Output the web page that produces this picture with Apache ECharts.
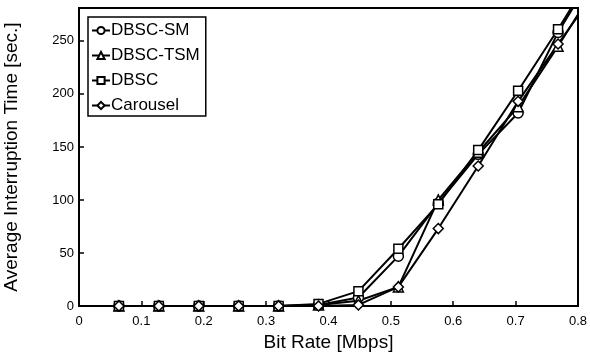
<!DOCTYPE html>
<html><head><meta charset="utf-8">
<script src="https://cdn.jsdelivr.net/npm/echarts@6/dist/echarts.min.js"></script>
<style>html,body{margin:0;padding:0;background:#fff}#c{width:590px;height:355px}</style>
</head><body><div id="c"></div>
<script>
const bitRates = [0.064, 0.128, 0.192, 0.256, 0.32, 0.384, 0.448, 0.512, 0.576, 0.64, 0.704, 0.768, 0.832];
const dbscSM   = [0, 0, 0, 0, 0, 1, 8, 47, 97, 143, 182, 258, 320];
const dbscTSM  = [0, 0, 0, 0, 0, 1, 5, 18, 100, 145, 188, 245, 305];
const dbsc     = [0, 0, 0, 0, 0, 2, 14, 54, 96, 147, 203, 261, 322];
const carousel = [0, 0, 0, 0, 0, 0, 1, 18, 73, 132, 193, 247, 300];
const seriesNames = ['DBSC-SM', 'DBSC-TSM', 'DBSC', 'Carousel'];
const seriesSymbols = ['circle', 'triangle', 'rect', 'diamond'];
const seriesValues = [dbscSM, dbscTSM, dbsc, carousel];
const yTicks = [0, 50, 100, 150, 200, 250];
const xTicks = [0, 0.1, 0.2, 0.3, 0.4, 0.5, 0.6, 0.7, 0.8];

const font = 'Liberation Sans, Arial, sans-serif';
const chart = echarts.init(document.getElementById('c'));
chart.setOption({
  animation: false,
  grid: {left: 79, right: 12, top: 8, bottom: 49, show: true, borderColor: '#000', borderWidth: 2, backgroundColor: 'transparent', containLabel: false, outerBoundsMode: 'none'},
  legend: {
    left: 88, top: 17, orient: 'vertical', itemGap: 8, itemWidth: 18, itemHeight: 9,
    borderColor: '#000', borderWidth: 1.5, padding: [5, 6, 2, 3],
    textStyle: {fontFamily: font, fontSize: 17, color: '#000', padding: [0, 0, 0, -4]},
    data: seriesNames
  },
  xAxis: {
    type: 'value', min: 0, max: 0.8, interval: 0.1,
    name: 'Bit Rate [Mbps]', nameLocation: 'middle', nameGap: 25,
    nameTextStyle: {fontFamily: font, fontSize: 19, color: '#000'},
    axisLine: {lineStyle: {color: '#000', width: 2}},
    axisTick: {inside: true, length: 5, lineStyle: {color: '#000', width: 1.5}},
    axisLabel: {fontFamily: font, fontSize: 13, color: '#000', margin: 9,
      formatter: v => xTicks.includes(Math.round(v*10)/10) ? String(Math.round(v*10)/10) : ''},
    splitLine: {show: false}
  },
  yAxis: {
    type: 'value', min: 0, max: 281, interval: 50,
    name: 'Average Interruption Time [sec.]', nameLocation: 'middle', nameGap: 58,
    nameTextStyle: {fontFamily: font, fontSize: 19, color: '#000'},
    axisLine: {show: true, lineStyle: {color: '#000', width: 2}},
    axisTick: {show: true, inside: true, length: 5, lineStyle: {color: '#000', width: 1.5}},
    axisLabel: {fontFamily: font, fontSize: 13, color: '#000', margin: 5, showMaxLabel: false,
      formatter: v => yTicks.includes(v) ? String(v) : ''},
    splitLine: {show: false}
  },
  series: seriesNames.map((n, i) => ({
    name: n, type: 'line', clip: true,
    data: bitRates.map((x, j) => [x, seriesValues[i][j]]),
    symbol: seriesSymbols[i], symbolSize: seriesSymbols[i] === 'rect' ? 9 : 10,
    showAllSymbol: true,
    lineStyle: {color: '#000', width: 2},
    itemStyle: {color: '#fff', borderColor: '#000', borderWidth: 1.5}
  }))
});
</script></body></html>
